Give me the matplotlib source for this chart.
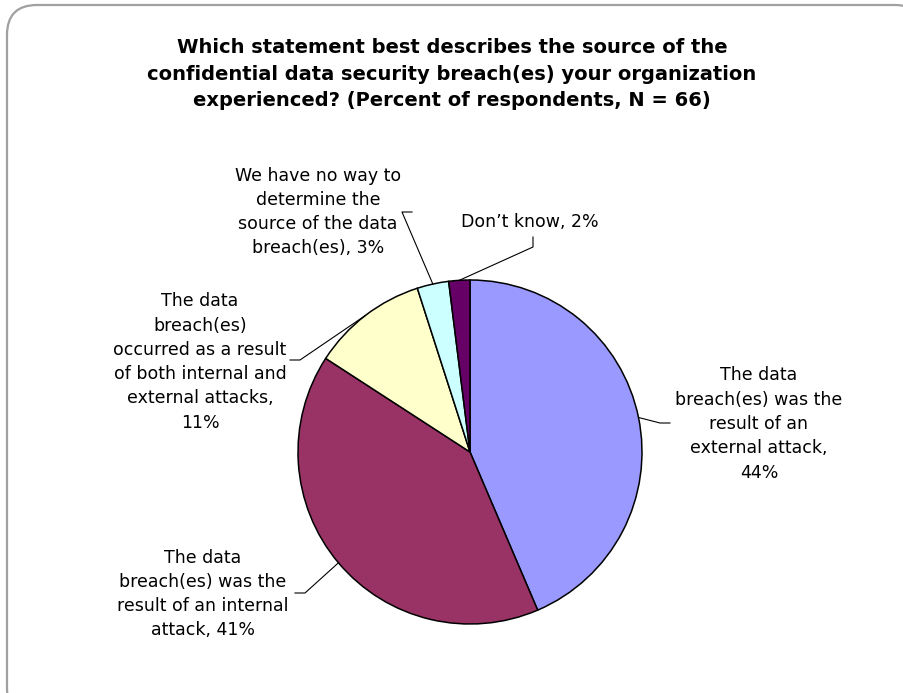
import matplotlib.pyplot as plt
import numpy as np
from matplotlib.patches import FancyBboxPatch

# --- data ---
labels = [
    "The data\nbreach(es) was the\nresult of an\nexternal attack,\n44%",
    "The data\nbreach(es) was the\nresult of an internal\nattack, 41%",
    "The data\nbreach(es)\noccurred as a result\nof both internal and\nexternal attacks,\n11%",
    "We have no way to\ndetermine the\nsource of the data\nbreach(es), 3%",
    "Don\u2019t know, 2%",
]
values = [44, 41, 11, 3, 2]
colors = ["#9999FF", "#993366", "#FFFFCC", "#CCFFFF", "#660066"]

title = ("Which statement best describes the source of the\n"
         "confidential data security breach(es) your organization\n"
         "experienced? (Percent of respondents, N = 66)")

# --- layout (pixel coords, y measured from top) ---
W, H = 904, 693
center = (470, 452)
radius = 172
# label centre positions and the elbow point of each leader line
label_pos = [(759, 424), (203, 594), (200, 362), (318, 212), (530, 222)]
elbow = [[(660, 423), (670, 423)],
         [(305, 593), (295, 593)],
         [(300, 360), (290, 360)],
         [(402, 212), (412, 212)],
         [(533, 247), (533, 237)]]

fig = plt.figure(figsize=(W / 100, H / 100), dpi=100)
ax = fig.add_axes([0, 0, 1, 1])

# rounded frame, partly running off the right / bottom edge
frame = FancyBboxPatch((7, H - 718), 918, 713,
                       boxstyle="round,pad=0,rounding_size=30",
                       fc="white", ec="#a0a0a0", lw=1.6, zorder=0)
ax.add_patch(frame)

wedges, _ = ax.pie(values, colors=colors, startangle=90, counterclock=False,
                   center=(center[0], H - center[1]), radius=radius,
                   wedgeprops=dict(edgecolor="black", linewidth=1.1),
                   frame=True)
ax.set_xlim(0, W)
ax.set_ylim(0, H)
ax.set_aspect("equal")
ax.axis("off")

for w, lab, (lx, ly), el in zip(wedges, labels, label_pos, elbow):
    mid = np.deg2rad((w.theta1 + w.theta2) / 2)
    px = center[0] + radius * np.cos(mid)
    py = H - center[1] + radius * np.sin(mid)
    xs = [px] + [p[0] for p in el]
    ys = [py] + [H - p[1] for p in el]
    ax.plot(xs, ys, color="black", lw=0.8, zorder=3)
    ax.text(lx, H - ly, lab, ha="center", va="center", fontsize=12.5,
            linespacing=1.45, family="DejaVu Sans", color="black")

ax.text(452, H - 74, title, ha="center", va="center", fontsize=14,
        fontweight="bold", linespacing=1.48, family="DejaVu Sans")

fig.savefig("out.png", dpi=100)
